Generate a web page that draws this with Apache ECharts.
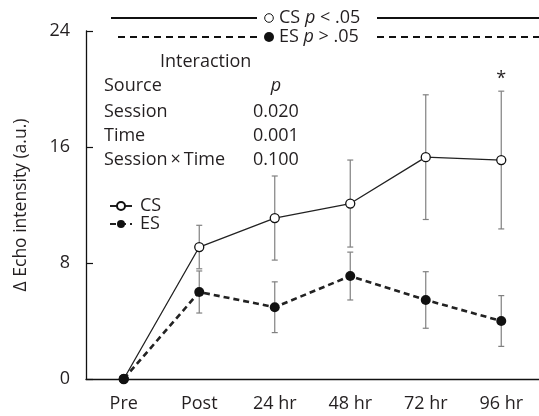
<!DOCTYPE html>
<html>
<head>
<meta charset="utf-8">
<script src="https://cdn.jsdelivr.net/npm/echarts@6/dist/echarts.min.js"></script>
<style>
  html, body { margin: 0; padding: 0; background: #fff; }
  #chart { width: 539px; height: 416px; }
</style>
</head>
<body>
<div id="chart"></div>
<script>
// data
const categories = ['Pre', 'Post', '24 hr', '48 hr', '72 hr', '96 hr']
const csMean = [0, 9.1, 11.1, 12.1, 15.3, 15.1]
const csErr = [0, 1.5, 2.9, 3.0, 4.3, 4.75]
const esMean = [0, 6.0, 4.95, 7.1, 5.45, 4.0]
const esErr = [0, 1.45, 1.75, 1.65, 1.95, 1.75]
const yTicks = [0, 8, 16, 24]
const statSources = ['Session', 'Time', 'Session\u2009×\u2009Time']
const statP = ['0.020', '0.001', '0.100']
const sigLabel = '*'
const sigIndex = 5
const sigY = 20.7

const FONT = 'Open Sans'
const INK = '#231f20'
const FS = 18

function errData(mean, err) {
  return mean.map((m, i) => [i, m - err[i], m + err[i]])
}

function renderErr(params, api) {
  const x = api.value(0)
  const lo = api.coord([x, api.value(1)])
  const hi = api.coord([x, api.value(2)])
  if (Math.abs(lo[1] - hi[1]) < 1) return
  const w = 3
  const style = { stroke: '#808080', lineWidth: 1.2 }
  return {
    type: 'group',
    children: [
      { type: 'line', shape: { x1: hi[0], y1: hi[1], x2: lo[0], y2: lo[1] }, style },
      { type: 'line', shape: { x1: hi[0] - w, y1: hi[1], x2: hi[0] + w, y2: hi[1] }, style },
      { type: 'line', shape: { x1: lo[0] - w, y1: lo[1], x2: lo[0] + w, y2: lo[1] }, style }
    ]
  }
}

function txt(x, y, text, extra) {
  return {
    type: 'text', x: x, y: y,
    style: Object.assign({ text: text, fontFamily: FONT, fontSize: FS, fill: INK, verticalAlign: 'middle' }, extra || {})
  }
}

const chart = echarts.init(document.getElementById('chart'))

const statGraphics = [
  txt(160, 62, 'Interaction'),
  txt(104, 86, 'Source'),
  txt(276, 86, 'p', { fontStyle: 'italic', align: 'center' })
]
statSources.forEach((s, i) => {
  statGraphics.push(txt(104, 112 + i * 24, s))
  statGraphics.push(txt(253, 112 + i * 24, statP[i]))
})

// top legend: line key across the plot
const richLeg = {
  n: { fontFamily: FONT, fontSize: FS, color: INK },
  i: { fontFamily: FONT, fontSize: FS, color: INK, fontStyle: 'italic' }
}
const topLegend = [
  { type: 'line', shape: { x1: 111, y1: 18, x2: 257, y2: 18 }, style: { stroke: '#111', lineWidth: 2.2 } },
  { type: 'circle', shape: { cx: 269, cy: 18, r: 4.3 }, style: { fill: '#fff', stroke: '#111', lineWidth: 1 } },
  txt(279, 18, '{n|CS }{i|p}{n| < .05}', { rich: richLeg }),
  { type: 'line', shape: { x1: 377, y1: 18, x2: 539, y2: 18 }, style: { stroke: '#111', lineWidth: 2.2 } },
  { type: 'line', shape: { x1: 118, y1: 37, x2: 257, y2: 37 }, style: { stroke: '#111', lineWidth: 2.2, lineDash: [7, 5] } },
  { type: 'circle', shape: { cx: 269, cy: 37, r: 5 }, style: { fill: '#111' } },
  txt(279, 37, '{n|ES }{i|p}{n| > .05}', { rich: richLeg }),
  { type: 'line', shape: { x1: 377, y1: 37, x2: 539, y2: 37 }, style: { stroke: '#111', lineWidth: 2.2, lineDash: [7, 5] } }
]

chart.setOption({
  animation: false,
  backgroundColor: '#fff',
  textStyle: { fontFamily: FONT, color: INK },
  grid: { left: 86, right: -3, top: 31, bottom: 37 },
  legend: {
    orient: 'vertical',
    left: 104,
    top: 192,
    itemWidth: 22,
    itemHeight: 10,
    itemGap: 0,
    data: ['CS', 'ES'],
    textStyle: { fontFamily: FONT, fontSize: FS, color: INK, padding: [0, 0, 0, 3] }
  },
  xAxis: {
    type: 'category',
    data: categories,
    boundaryGap: true,
    axisLine: { lineStyle: { color: '#111', width: 1.3 } },
    axisTick: { alignWithLabel: true, inside: true, length: 8, lineStyle: { color: '#111', width: 1.2 } },
    axisLabel: { fontFamily: FONT, fontSize: FS, color: INK, margin: 16 }
  },
  yAxis: {
    type: 'value',
    min: yTicks[0],
    max: yTicks[yTicks.length - 1],
    interval: 8,
    name: 'Δ Echo intensity (a.u.)',
    nameLocation: 'middle',
    nameGap: 56,
    nameTextStyle: { fontFamily: FONT, fontSize: 17.5, color: INK },
    axisLine: { show: true, lineStyle: { color: '#111', width: 1.3 } },
    axisTick: { show: true, inside: true, length: 7, lineStyle: { color: '#111', width: 1.2 } },
    axisLabel: { fontFamily: FONT, fontSize: FS, color: INK, margin: 16 },
    splitLine: { show: false }
  },
  graphic: statGraphics.concat(topLegend),
  series: [
    {
      type: 'custom',
      renderItem: renderErr,
      data: errData(csMean, csErr),
      z: 1,
      silent: true
    },
    {
      type: 'custom',
      renderItem: renderErr,
      data: errData(esMean, esErr),
      z: 1,
      silent: true
    },
    {
      name: 'CS',
      type: 'line',
      data: csMean,
      symbol: 'circle',
      symbolSize: 9,
      itemStyle: { color: '#fff', borderColor: '#111', borderWidth: 1.3 },
      lineStyle: { color: '#222', width: 1.3 },
      z: 3,
      markPoint: {
        symbol: 'circle',
        symbolSize: 0,
        label: { show: true, formatter: sigLabel, fontFamily: FONT, fontSize: FS, color: INK },
        data: [{ coord: [sigIndex, sigY] }]
      }
    },
    {
      name: 'ES',
      type: 'line',
      data: esMean,
      symbol: 'circle',
      symbolSize: 10,
      itemStyle: { color: '#111', borderColor: '#111', borderWidth: 0 },
      lineStyle: { color: '#222', width: 2.6, type: [6, 4] },
      z: 4
    }
  ]
})
</script>
</body>
</html>
